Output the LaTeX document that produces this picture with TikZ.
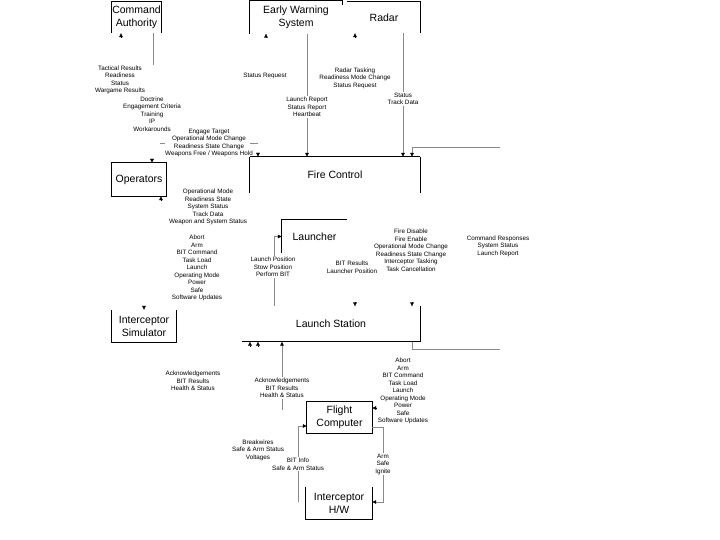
\documentclass[tikz,border=0pt]{standalone}
\usepackage{fontspec}
\setmainfont{Liberation Sans}
\usetikzlibrary{arrows.meta}
\definecolor{LinkGray}{HTML}{8A8A8A}

\begin{document}
\begin{tikzpicture}[
    x=1pt, y=-1pt,
    box/.style={rectangle, inner sep=0pt, align=center, font=\fontsize{10.5}{13}\selectfont},
    edge/.style={draw=black, line width=0.9pt},
    bold/.style={draw=black, line width=1.4pt},
    link/.style={draw=LinkGray, line width=0.8pt},
    head/.style={-{Triangle[length=4pt, width=3.6pt, color=black]}},
    tail/.style={{Triangle[length=4pt, width=3.6pt, color=black]}-},
    lbl/.style={inner sep=0.8pt, align=center, font=\fontsize{6.3}{7.5}\selectfont},
    onlink/.style={lbl, fill=white}
]
\useasboundingbox (0,0) rectangle (720,540);

% boxes
\node[box, minimum width=49pt, minimum height=31pt] (ca) at (136.5,17.5) {Command\\Authority};
\node[box, minimum width=92pt, minimum height=33pt] (ews) at (296,17) {Early Warning\\System};
\node[box, minimum width=73pt, minimum height=31pt] (radar) at (384,17.5) {Radar};
\node[box, minimum width=54pt, minimum height=33pt] (op) at (139,179.5) {Operators};
\node[box, minimum width=170pt, minimum height=36pt] (fc) at (335,175) {Fire Control};
\node[box, minimum width=65pt, minimum height=33pt] (lau) at (314.5,236.5) {Launcher};
\node[box, minimum width=64pt, minimum height=32pt] (sim) at (144,326) {Interceptor\\Simulator};
\node[box, minimum width=178pt, minimum height=35pt] (ls) at (331,324) {Launch Station};
\node[box, minimum width=65pt, minimum height=31pt] (flc) at (339.5,417.5) {Flight\\Computer};
\node[box, minimum width=66pt, minimum height=32pt] (hw) at (339,503) {Interceptor\\H/W};

% box outlines (only the drawn sides)
\draw[edge] (ca.south west) |- (ca.north east) -- (ca.south east);
\draw[edge] (ews.south west) |- (ews.north east) -- ++(0,5);
\draw[edge] (radar.north west) -- (radar.north east) -- (radar.south east);
\draw[edge] (op.south west) rectangle (op.north east);
\draw[bold] (fc.north west) -- (fc.north east);
\draw[edge] (fc.north west) -- (fc.south west) (fc.north east) -- (fc.south east);
\draw[edge] (lau.south west) |- (lau.north east);
\draw[edge] (sim.north west) |- (sim.south east) -- (sim.north east);
\draw[bold] (ls.south west) -- (ls.south east);
\draw[edge] (ls.north east) -- (ls.south east);
\draw[edge] (flc.south west) rectangle (flc.north east);
\draw[edge] (hw.north west) |- (hw.south east) -- (hw.north east);

% connectors
\draw[link] (ca.south -| 153,0) -- (153,65);
\draw[link] (160,143) -- (165,143);
\draw[link] (250,143) -- (258,143);
\draw[link, head] (ews.south -| 307,0) -- (fc.north -| 307,0);
\draw[link, head] (radar.south -| 403,0) -- (fc.north -| 403,0);
\draw[link] (ls.south -| 412,0) |- (500,349);
\draw[link, head] (500,147) -| (fc.north -| 412,0);
\draw[link, head] (ls.north -| 274,0) |- (lau.west);
\draw[link, tail] (ls.south -| 282,0) -- (282,410);
\draw[link, head] (298,502) |- (flc.west |- 0,426);
\draw[link, head] (flc.east |- 0,427) -| (383,502) -- (hw.east |- 0,502);

% arrow heads
\draw[head] (121,37) -- (ca.south -| 121,0);
\draw[head] (266,37.5) -- (ews.south -| 266,0);
\draw[head] (355,37) -- (radar.south -| 355,0);
\draw[head] (152,159) -- (op.north -| 152,0);
\draw[head] (161,200) -- (op.south -| 161,0);
\draw[head] (258,153) -- (fc.north -| 258,0);
\draw[head] (355,302.5) -- (ls.north -| 355,0);
\draw[head] (412,302.5) -- (ls.north -| 412,0);
\draw[head] (250,345.5) -- (ls.south -| 250,0);
\draw[head] (258,345.5) -- (ls.south -| 258,0);
\draw[head] (144,306) -- (sim.north -| 144,0);
\draw[head] (376,408) -- (flc.east |- 0,408);

% labels
\node[lbl] (tacres) at (120,80) {Tactical Results\\Readiness\\Status\\Wargame Results};
\node[lbl] (doctr) at (152,114) {Doctrine\\Engagement Criteria\\Training\\IP\\Workarounds};
\node[lbl] (engage) at (209,143) {Engage Target\\Operational Mode Change\\Readiness State Change\\Weapons Free / Weapons Hold};
\node[lbl] (ewsreq) at (265,76) {Status Request};
\node[onlink] (ewsrep) at (307,107) {Launch Report\\Status Report\\Heartbeat};
\node[lbl] (radtask) at (355,78) {Radar Tasking\\Readiness Mode Change\\Status Request};
\node[onlink] (radtrack) at (403,99) {Status\\Track Data};
\node[lbl] (opstat) at (208,207) {Operational Mode\\Readiness State\\System Status\\Track Data\\Weapon and System Status};
\node[lbl] (simcmd) at (197,268) {Abort\\Arm\\BIT Command\\Task Load\\Launch\\Operating Mode\\Power\\Safe\\Software Updates};
\node[onlink] (laucmd) at (273,267) {Launch Position\\Stow Position\\Perform BIT};
\node[lbl] (laures) at (352,267) {BIT Results\\Launcher Position};
\node[lbl] (fccmd) at (411,250) {Fire Disable\\Fire Enable\\Operational Mode Change\\Readiness State Change\\Interceptor Tasking\\Task Cancellation};
\node[lbl] (lsresp) at (498,246) {Command Responses\\System Status\\Launch Report};
\node[lbl] (simack) at (193,381) {Acknowledgements\\BIT Results\\Health \& Status};
\node[onlink] (flcack) at (282,388) {Acknowledgements\\BIT Results\\Health \& Status};
\node[lbl] (flccmd) at (403,391) {Abort\\Arm\\BIT Command\\Task Load\\Launch\\Operating Mode\\Power\\Safe\\Software Updates};
\node[lbl] (breakw) at (258,450) {Breakwires\\Safe \& Arm Status\\Voltages};
\node[onlink] (hwbit) at (298,464) {BIT Info\\Safe \& Arm Status};
\node[onlink] (hwarm) at (383,464) {Arm\\Safe\\Ignite};

\end{tikzpicture}
\end{document}
